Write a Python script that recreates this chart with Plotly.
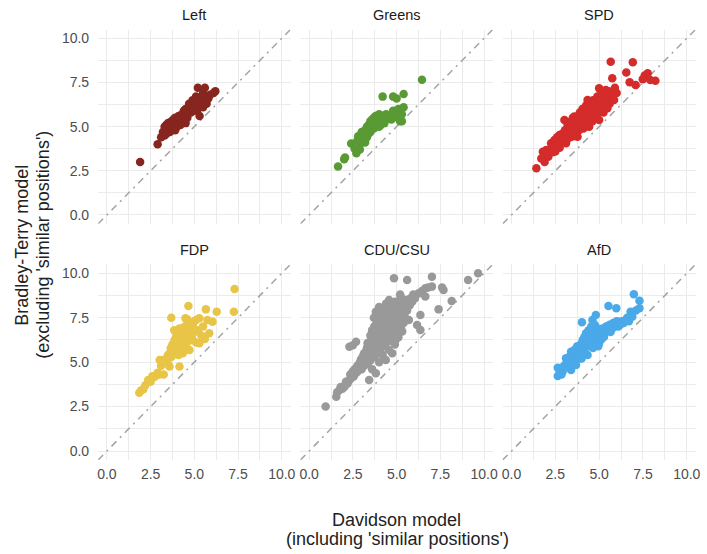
import plotly.graph_objects as go

# ---------------- data ----------------
parties = ["Left", "Greens", "SPD", "FDP", "CDU/CSU", "AfD"]
party_colors = ["#87251f", "#5a9a35", "#d42b2b", "#e8c547", "#999999", "#4aa9e8"]

tick_vals = [0, 2.5, 5, 7.5, 10]
tick_text = ["0.0", "2.5", "5.0", "7.5", "10.0"]

left_x = [1.9, 2.9, 3.1, 3.2, 3.3, 3.3, 3.4, 3.4, 3.5, 3.5, 3.6, 3.6, 3.7, 3.7, 3.8, 3.8, 3.9, 3.9,
          4.0, 4.0, 4.1, 4.1, 4.2, 4.2, 4.3, 4.3, 4.4, 4.4, 4.5, 4.5, 4.6, 4.6, 4.7, 4.7, 4.8, 4.8,
          4.9, 4.9, 5.0, 5.0, 5.1, 5.1, 5.2, 5.2, 5.3, 5.4, 5.5, 5.5, 5.6, 5.7, 5.8, 5.9, 6.1, 6.2,
          5.2, 5.6, 4.5, 3.9]
left_y = [3.0, 4.0, 4.4, 4.7, 4.5, 5.0, 4.6, 5.1, 4.8, 5.2, 4.7, 5.0, 5.0, 5.3, 4.9, 5.4, 5.1, 5.5,
          5.0, 5.3, 5.2, 5.6, 5.1, 5.5, 5.3, 5.7, 5.4, 5.9, 5.6, 6.0, 5.5, 5.8, 6.0, 6.3, 5.8, 6.2,
          6.1, 6.5, 5.9, 6.4, 6.2, 6.7, 6.0, 6.6, 5.6, 6.5, 6.1, 6.9, 6.5, 6.3, 6.6, 6.8, 6.9, 7.0,
          7.2, 7.2, 5.2, 4.8]

greens_x = [1.65, 2.0, 2.05, 2.4, 2.6, 2.7, 2.75, 2.8, 2.9, 3.0, 3.0, 3.1, 3.1, 3.2, 3.2, 3.3, 3.3,
            3.3, 3.4, 3.4, 3.4, 3.5, 3.5, 3.5, 3.6, 3.6, 3.6, 3.7, 3.7, 3.7, 3.8, 3.8, 3.8, 3.9,
            3.9, 4.0, 4.0, 4.0, 4.1, 4.1, 4.2, 4.2, 4.3, 4.3, 4.4, 4.4, 4.5, 4.6, 4.7, 4.8, 4.8,
            5.0, 5.0, 5.1, 5.2, 5.3, 5.3, 5.4, 4.2, 4.8, 5.0, 5.4, 6.45, 3.2, 2.9]
greens_y = [2.75, 3.15, 3.25, 4.05, 3.75, 3.5, 4.2, 4.45, 4.0, 4.4, 4.7, 4.3, 4.6, 4.5, 4.8, 4.4,
            4.7, 5.0, 4.6, 4.9, 5.1, 4.7, 5.0, 5.3, 4.9, 5.1, 5.4, 4.9, 5.2, 5.5, 5.0, 5.3, 5.6,
            5.2, 5.5, 5.0, 5.3, 5.7, 5.1, 5.4, 5.3, 5.6, 5.2, 5.5, 5.4, 5.7, 5.5, 5.6, 5.4, 5.9,
            5.5, 5.6, 5.9, 6.0, 5.3, 5.7, 5.3, 6.1, 6.7, 6.7, 6.6, 6.85, 7.65, 4.1, 3.7]

spd_x = [1.42, 1.79, 1.89, 1.98, 2.1, 2.2, 2.26, 2.3, 2.45, 2.5, 2.55, 2.6, 2.7, 2.74, 2.75, 2.8,
         2.9, 2.95, 3.02, 3.05, 3.1, 3.11, 3.2, 3.25, 3.3, 3.35, 3.4, 3.45, 3.5, 3.5, 3.58, 3.6,
         3.65, 3.7, 3.75, 3.77, 3.8, 3.85, 3.87, 3.9, 3.95, 4.0, 4.0, 4.05, 4.1, 4.15, 4.2, 4.25,
         4.3, 4.34, 4.35, 4.4, 4.43, 4.45, 4.5, 4.55, 4.6, 4.62, 4.65, 4.7, 4.72, 4.75, 4.8, 4.85,
         4.9, 4.9, 5.0, 5.0, 5.0, 5.05, 5.1, 5.15, 5.2, 5.25, 5.3, 5.38, 5.4, 5.47, 5.5, 5.55,
         5.6, 5.66, 5.7, 5.75, 5.75, 5.85, 5.9, 6.0, 6.55, 6.74, 6.92, 7.08, 7.49, 7.6, 7.77,
         7.92, 8.21, 2.0, 2.35, 3.15, 3.55, 4.1, 1.7]
spd_y = [2.64, 3.58, 3.0, 3.68, 3.3, 3.6, 4.06, 3.8, 4.25, 3.6, 3.95, 4.4, 4.1, 4.53, 3.8, 4.3,
         4.6, 4.2, 5.38, 4.8, 4.5, 4.06, 5.1, 4.7, 5.0, 4.4, 5.3, 4.9, 5.5, 4.6, 5.57, 5.1,
         4.8, 5.4, 5.0, 4.43, 5.6, 5.2, 4.81, 5.8, 5.4, 5.0, 5.7, 6.0, 5.3, 5.85, 5.5, 6.2,
         5.7, 6.51, 5.1, 6.0, 5.0, 5.5, 6.3, 5.8, 6.1, 5.3, 6.5, 5.9, 6.23, 5.5, 6.4, 6.0,
         6.7, 5.7, 7.17, 6.2, 5.38, 6.6, 5.9, 6.9, 6.3, 5.8, 6.7, 7.08, 6.1, 6.04, 6.5, 7.0,
         6.3, 8.68, 6.8, 7.74, 6.51, 6.51, 7.2, 6.9, 8.06, 7.51, 8.64, 7.36, 7.68, 7.9, 8.02,
         7.64, 7.6, 3.4, 3.55, 4.25, 4.45, 4.9, 3.2]

fdp_x = [1.85, 1.95, 2.08, 2.2, 2.36, 2.5, 2.6, 2.74, 2.9, 3.0, 3.02, 3.1, 3.2, 3.25, 3.3, 3.4,
         3.49, 3.5, 3.58, 3.6, 3.65, 3.68, 3.7, 3.75, 3.8, 3.87, 3.9, 3.95, 4.0, 4.0, 4.05, 4.1,
         4.15, 4.15, 4.2, 4.25, 4.3, 4.34, 4.4, 4.45, 4.49, 4.5, 4.55, 4.6, 4.66, 4.7, 4.72, 4.8,
         4.85, 4.91, 4.91, 5.0, 5.0, 5.09, 5.1, 5.2, 5.28, 5.28, 5.4, 5.5, 5.6, 5.66, 5.75, 5.85,
         6.04, 6.28, 7.26, 7.3, 4.6, 3.85]
fdp_y = [3.28, 3.4, 3.47, 3.7, 4.0, 3.9, 4.2, 4.18, 4.4, 4.3, 5.12, 4.8, 5.1, 4.31, 5.0, 5.2,
         5.4, 4.9, 4.75, 5.5, 5.8, 7.5, 5.3, 6.0, 5.6, 6.25, 5.9, 6.4, 5.7, 6.1, 6.7, 5.4,
         6.9, 4.75, 6.3, 5.9, 6.6, 5.5, 6.1, 7.0, 7.47, 6.4, 5.8, 6.8, 8.16, 6.2, 5.68, 7.1,
         6.5, 6.25, 7.0, 7.3, 6.7, 7.37, 6.1, 6.8, 7.47, 6.06, 6.5, 7.0, 6.3, 7.97, 7.37, 6.62,
         7.28, 7.84, 7.84, 9.12, 7.4, 6.8]

cdu_x = [0.94, 1.55, 1.6, 1.74, 1.8, 1.9, 2.02, 2.1, 2.2, 2.3, 2.35, 2.4, 2.49, 2.55, 2.6, 2.7,
         2.75, 2.8, 2.87, 2.9, 2.95, 3.0, 3.0, 3.05, 3.1, 3.15, 3.15, 3.2, 3.25, 3.3, 3.34, 3.35,
         3.4, 3.43, 3.45, 3.5, 3.5, 3.55, 3.6, 3.6, 3.65, 3.7, 3.72, 3.75, 3.8, 3.81, 3.81, 3.85,
         3.9, 3.9, 3.9, 3.95, 4.0, 4.0, 4.0, 4.05, 4.1, 4.1, 4.15, 4.19, 4.2, 4.2, 4.25, 4.3,
         4.3, 4.35, 4.38, 4.4, 4.4, 4.45, 4.5, 4.5, 4.55, 4.57, 4.6, 4.6, 4.65, 4.7, 4.7, 4.75,
         4.75, 4.8, 4.8, 4.85, 4.85, 4.9, 4.9, 4.94, 5.0, 5.0, 5.0, 5.05, 5.1, 5.1, 5.15, 5.2,
         5.23, 5.25, 5.3, 5.32, 5.35, 5.4, 5.45, 5.51, 5.55, 5.6, 5.6, 5.7, 5.75, 5.8, 5.89, 5.95,
         6.05, 6.17, 6.26, 6.36, 6.36, 6.45, 6.64, 6.64, 6.8, 7.02, 7.02, 7.4, 7.6, 7.68, 8.15,
         9.09, 9.66, 2.3, 2.68, 2.5,
         3.7, 3.8, 3.9, 4.0, 4.1, 4.2, 4.3, 4.4, 4.5, 4.6, 4.7, 4.1, 4.3, 4.6, 3.95, 3.7, 3.6,
         3.5, 3.4, 3.3, 3.2, 3.1, 3.0, 4.9, 5.2, 5.4, 5.6, 4.4, 4.0, 3.85]
cdu_y = [2.5, 3.06, 3.3, 3.43, 3.6, 3.5, 3.62, 3.9, 3.8, 4.0, 4.3, 4.1, 4.47, 4.2, 4.6, 4.4,
         4.8, 4.5, 4.93, 4.7, 5.1, 4.6, 5.2, 4.9, 5.4, 5.5, 4.8, 5.1, 5.6, 5.3, 6.06, 4.9,
         5.7, 4.0, 5.4, 5.9, 5.1, 6.2, 5.6, 4.6, 6.4, 5.8, 7.0, 5.3, 6.6, 7.84, 4.37, 6.0,
         7.37, 6.8, 5.6, 7.1, 6.3, 7.6, 5.0, 6.9, 5.8, 7.3, 6.5, 7.56, 6.1, 5.4, 7.9, 6.8,
         7.2, 5.9, 5.12, 6.4, 7.6, 7.0, 8.1, 6.6, 5.7, 8.5, 7.3, 6.2, 7.8, 6.9, 8.2, 5.5,
         7.5, 6.5, 8.0, 9.72, 7.1, 6.0, 7.7, 6.25, 7.3, 8.3, 6.7, 7.9, 7.0, 6.4, 8.1, 7.5,
         8.69, 6.9, 7.8, 6.72, 8.3, 7.2, 7.6, 8.12, 8.5, 9.62, 7.9, 7.37, 8.2, 8.6, 8.4, 8.8,
         8.6, 7.09, 8.87, 6.81, 7.65, 9.0, 9.16, 8.69, 9.2, 9.25, 9.81, 7.97, 9.2, 9.06, 8.44,
         9.62, 10.0, 5.87, 6.15, 5.95,
         6.2, 6.3, 6.1, 6.6, 6.7, 6.9, 6.3, 6.9, 7.3, 7.6, 7.4, 7.9, 8.0, 8.0, 7.7, 7.5, 6.8,
         6.5, 6.1, 5.8, 5.5, 5.2, 5.0, 8.4, 8.8, 8.0, 8.4, 8.3, 8.1, 7.2]

afd_x = [2.64, 2.64, 2.75, 2.92, 3.0, 3.11, 3.2, 3.3, 3.4, 3.4, 3.5, 3.55, 3.6, 3.68, 3.7, 3.75,
         3.8, 3.87, 3.9, 3.95, 4.0, 4.02, 4.06, 4.1, 4.15, 4.2, 4.25, 4.3, 4.34, 4.4, 4.45, 4.5,
         4.55, 4.6, 4.62, 4.65, 4.7, 4.75, 4.81, 4.81, 4.85, 4.9, 4.95, 5.0, 5.0, 5.1, 5.15, 5.2,
         5.28, 5.35, 5.4, 5.5, 5.53, 5.6, 5.65, 5.75, 5.8, 5.9, 5.98, 6.0, 6.1, 6.13, 6.2, 6.3,
         6.4, 6.51, 6.6, 6.7, 6.79, 6.89, 6.98, 7.1, 7.3, 7.3, 3.3, 3.6, 4.0, 4.45, 3.15, 2.85]
afd_y = [4.22, 4.69, 4.5, 4.47, 4.8, 5.22, 4.9, 5.3, 4.56, 5.59, 5.1, 5.4, 5.7, 4.84, 5.3, 5.9,
         5.5, 5.87, 5.2, 6.0, 5.6, 7.24, 6.25, 5.8, 6.4, 5.5, 6.62, 6.1, 5.4, 6.8, 5.9, 6.5,
         7.0, 6.2, 7.37, 5.8, 6.6, 7.1, 7.65, 6.62, 6.3, 6.9, 5.9, 6.06, 6.6, 6.8, 6.3, 6.9,
         6.43, 6.7, 7.0, 6.8, 8.16, 7.1, 6.7, 6.9, 7.2, 7.0, 8.03, 7.3, 7.0, 7.28, 7.1, 7.3,
         7.2, 7.37, 7.5, 7.3, 7.84, 7.56, 8.82, 7.9, 8.46, 8.03, 4.7, 5.0, 5.2, 6.1, 5.0, 4.3]

xs = [left_x, greens_x, spd_x, fdp_x, cdu_x, afd_x]
ys = [left_y, greens_y, spd_y, fdp_y, cdu_y, afd_y]

# ---------------- layout geometry ----------------
W, H = 707, 554
FONT = "Liberation Sans, Arial, Helvetica, sans-serif"
xdoms = [(98 / W, 292 / W), (302 / W, 496 / W), (506 / W, 700.5 / W)]
ydoms = [(1 - 223.8 / H, 1 - 29.5 / H), (1 - 459.9 / H, 1 - 264.4 / H)]
AX_RANGE = [-0.5, 10.5]

fig = go.Figure()
layout = dict(
    width=W, height=H,
    margin=dict(l=0, r=0, t=0, b=0),
    paper_bgcolor="white", plot_bgcolor="white",
    showlegend=False,
    font=dict(family=FONT),
)
annotations = []

for i, party in enumerate(parties):
    row, col = divmod(i, 3)
    sfx = "" if i == 0 else str(i + 1)
    xa, ya = "x" + sfx, "y" + sfx

    # identity reference line
    fig.add_trace(go.Scatter(
        x=AX_RANGE, y=AX_RANGE, mode="lines", xaxis=xa, yaxis=ya,
        line=dict(color="#a3a3a3", width=1.5, dash="7px,5px,2px,5px"),
        hoverinfo="skip",
    ))
    fig.add_trace(go.Scatter(
        x=xs[i], y=ys[i], mode="markers", xaxis=xa, yaxis=ya, name=party,
        marker=dict(color=party_colors[i], size=8.5, line=dict(width=0)),
    ))

    common = dict(
        range=AX_RANGE, tickvals=tick_vals, ticktext=tick_text,
        showgrid=True, gridcolor="#ebebeb", gridwidth=1.2,
        zeroline=False, showline=False, ticks="",
        tickfont=dict(family=FONT, size=14, color="#4d4d4d"),
        minor=dict(tickvals=[1.25, 3.75, 6.25, 8.75], showgrid=True,
                   gridcolor="#ebebeb", gridwidth=0.9),
        fixedrange=True,
    )
    layout["xaxis" + sfx] = dict(
        common, domain=list(xdoms[col]), anchor=ya,
        showticklabels=(row == 1), ticklabelstandoff=4,
    )
    layout["yaxis" + sfx] = dict(
        common, domain=list(ydoms[row]), anchor=xa,
        showticklabels=(col == 0), ticklabelstandoff=8,
    )

    # facet strip label
    annotations.append(dict(
        text=party, xref="paper", yref="paper",
        x=(xdoms[col][0] + xdoms[col][1]) / 2,
        y=ydoms[row][1] + 14.5 / H,
        xanchor="center", yanchor="middle", showarrow=False,
        font=dict(family=FONT, size=14.5, color="#1a1a1a"),
    ))

# axis titles
annotations += [
    dict(text="Davidson model", xref="paper", yref="paper",
         x=399 / W, y=1 - 520 / H, xanchor="center", yanchor="middle",
         showarrow=False, font=dict(family=FONT, size=18, color="#222222")),
    dict(text="(including 'similar positions')", xref="paper", yref="paper",
         x=400 / W, y=1 - 539 / H, xanchor="center", yanchor="middle",
         showarrow=False, font=dict(family=FONT, size=18, color="#222222")),
    dict(text="Bradley-Terry model", xref="paper", yref="paper",
         x=21 / W, y=1 - 245 / H, xanchor="center", yanchor="middle", textangle=-90,
         showarrow=False, font=dict(family=FONT, size=18, color="#222222")),
    dict(text="(excluding 'similar positions')", xref="paper", yref="paper",
         x=42 / W, y=1 - 245 / H, xanchor="center", yanchor="middle", textangle=-90,
         showarrow=False, font=dict(family=FONT, size=18, color="#222222")),
]
layout["annotations"] = annotations
fig.update_layout(**layout)

fig.write_html("out.html")
